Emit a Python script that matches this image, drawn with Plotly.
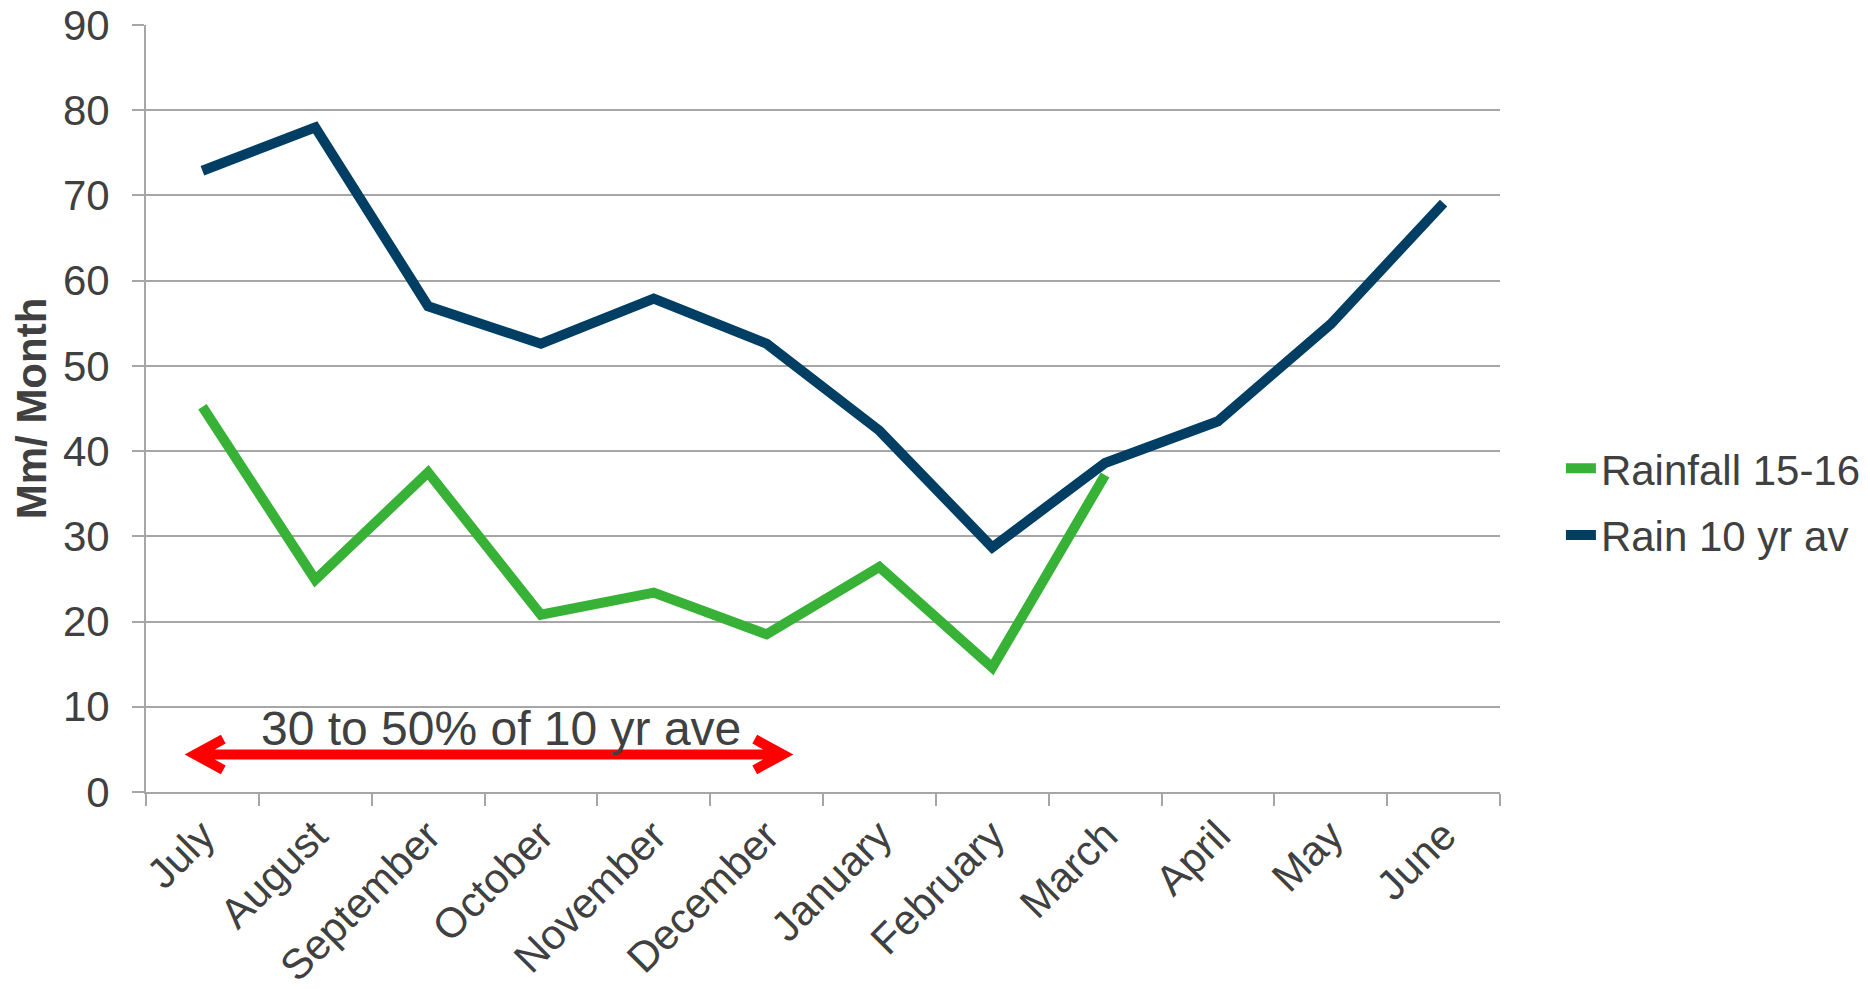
import plotly.graph_objects as go

# ---- data ----
months = ["July", "August", "September", "October", "November", "December",
          "January", "February", "March", "April", "May", "June"]
rainfall_15_16 = [45.2, 24.9, 37.5, 20.8, 23.4, 18.5, 26.4, 14.6, 37.2, None, None, None]
rain_10yr_av = [72.9, 78.0, 57.0, 52.6, 57.9, 52.6, 42.4, 28.7, 38.6, 43.5, 54.9, 69.1]
y_ticks = [0, 10, 20, 30, 40, 50, 60, 70, 80, 90]

note_text = "30 to 50% of 10 yr ave"
note_x, note_y = 2.65, 7.4                                  # category index / value
arrow_start, arrow_end, arrow_level = -0.065, 5.145, 4.4   # category index / value

GREEN = "#38B236"
NAVY = "#003F63"
GRID = "#A6A6A6"
TEXT = "#404040"
FONT = "Liberation Sans, Arial, sans-serif"

fig = go.Figure()
fig.add_trace(go.Scatter(
    x=months, y=rainfall_15_16, mode="lines", name="Rainfall 15-16",
    line=dict(color=GREEN, width=10), legendgroup="a", connectgaps=False))
fig.add_trace(go.Scatter(
    x=months, y=rain_10yr_av, mode="lines", name="Rain 10 yr av",
    line=dict(color=NAVY, width=10), legendgroup="b"))

# double-headed red arrow
hx, hy = 0.25, 1.8
path = (f"M {arrow_start + hx},{arrow_level + hy} L {arrow_start},{arrow_level} "
        f"L {arrow_start + hx},{arrow_level - hy} "
        f"M {arrow_start},{arrow_level} L {arrow_end},{arrow_level} "
        f"M {arrow_end - hx},{arrow_level + hy} L {arrow_end},{arrow_level} "
        f"L {arrow_end - hx},{arrow_level - hy}")
fig.add_shape(type="path", xref="x", yref="y", path=path,
              line=dict(color="#FF0000", width=10))

fig.add_annotation(x=note_x, y=note_y, xref="x", yref="y",
                   text=note_text, showarrow=False, yanchor="middle",
                   font=dict(family=FONT, size=48, color=TEXT))

W, H = 1870, 989
fig.update_layout(
    width=W, height=H,
    margin=dict(l=146, r=W - 1500, t=25, b=H - 792.5, autoexpand=False),
    paper_bgcolor="white", plot_bgcolor="white",
    font=dict(family=FONT, color=TEXT, size=42),
    showlegend=True,
    legend=dict(x=1.045, y=0.378, xanchor="left", yanchor="middle",
                font=dict(size=42, color=TEXT), traceorder="grouped",
                tracegroupgap=9, bgcolor="rgba(0,0,0,0)"),
)
fig.update_xaxes(
    type="category", categoryorder="array", categoryarray=months,
    tickson="boundaries", ticks="outside", ticklen=12, tickwidth=2, tickcolor=GRID,
    showline=True, linecolor=GRID, linewidth=2, showgrid=False,
    tickangle=-45, tickfont=dict(size=42, color=TEXT), range=[-0.5, 11.5])
fig.update_yaxes(
    range=[0, 90], tickvals=y_ticks, showgrid=True, gridcolor=GRID, gridwidth=2,
    ticks="outside", ticklen=12, tickwidth=2, tickcolor=GRID,
    showline=True, linecolor=GRID, linewidth=2, zeroline=False,
    ticklabelstandoff=14, ticklabeloverflow="allow",
    tickfont=dict(size=42, color=TEXT),
    title=dict(text="<b>Mm/ Month</b>", standoff=3,
               font=dict(size=42, color=TEXT)))

fig.write_html("out.html",
               config={"displayModeBar": False},
               post_script="document.body.style.margin='0';"
                           "document.body.style.overflow='hidden';")
